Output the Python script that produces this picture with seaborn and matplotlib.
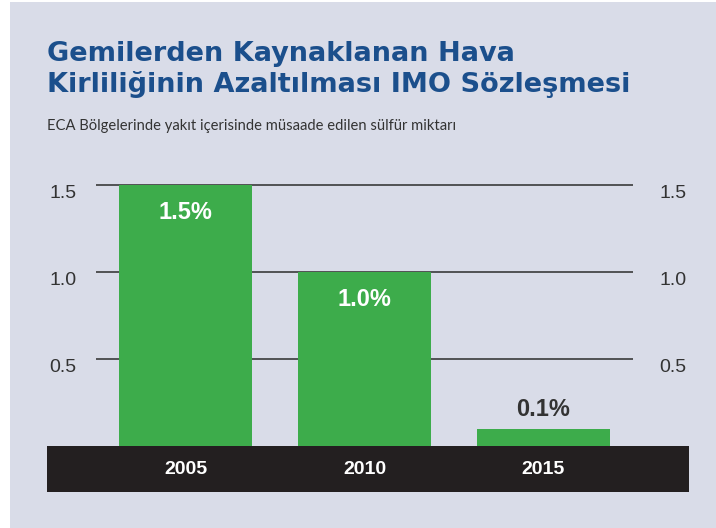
import matplotlib
matplotlib.use('Agg')
import matplotlib.pyplot as plt
from matplotlib.patches import Rectangle
import matplotlib.transforms as mtransforms
import pandas as pd
import seaborn as sns

sns.set_style("white")

# data
years = ['2005', '2010', '2015']
sulfur_limit = [1.5, 1.0, 0.1]
value_labels = ['1.5%', '1.0%', '0.1%']
y_ticks = [0.5, 1.0, 1.5]
y_tick_labels = ['0.5', '1.0', '1.5']

title = 'Gemilerden Kaynaklanan Hava\nKirliliğinin Azaltılması IMO Sözleşmesi'
subtitle = 'ECA Bölgelerinde yakıt içerisinde müsaade edilen sülfür miktarı'

bg_color = '#d9dce8'
green = '#3dac4b'
band_color = '#231f20'
title_color = '#1b4f8c'
text_color = '#333333'

W, H = 716, 528
fig = plt.figure(figsize=(W / 100, H / 100), dpi=100)
fig.patch.set_facecolor('white')

# panel background (thin white margin on the left and top)
fig.patches.append(Rectangle((10 / W, 0), (W - 10) / W, (H - 2) / H,
                             transform=fig.transFigure, facecolor=bg_color,
                             edgecolor='none', zorder=0))

# dark band under the bars
fig.patches.append(Rectangle((47 / W, (H - 492) / H), (689 - 47) / W, 46 / H,
                             transform=fig.transFigure, facecolor=band_color,
                             edgecolor='none', zorder=1))

ax = fig.add_axes([96 / W, (H - 446) / H, 537 / W, 1.55 * 174 / H])
ax.set_facecolor('none')
ax.set_zorder(5)

df = pd.DataFrame({'year': years, 'limit': sulfur_limit})
sns.barplot(data=df, x='year', y='limit', color=green, width=0.743,
            saturation=1, linewidth=0, ax=ax, zorder=3)

ax.set_xlim(-0.5, 2.5)
ax.set_ylim(0, 1.55)
ax.set_xlabel('')
ax.set_ylabel('')
ax.set_xticks([])
for s in ax.spines.values():
    s.set_visible(False)

for yv in y_ticks:
    ax.axhline(yv, color='#3a3a3a', lw=1.2, zorder=1)

ax.set_yticks(y_ticks)
ax.set_yticklabels(y_tick_labels, family='Liberation Sans')
ax.tick_params(axis='y', length=0, pad=14, labelsize=14, labelcolor=text_color)

ax2 = ax.twinx()
ax2.set_zorder(6)
ax2.set_ylim(ax.get_ylim())
ax2.set_yticks(y_ticks)
ax2.set_yticklabels(y_tick_labels, family='Liberation Sans')
ax2.tick_params(axis='y', length=0, pad=19, labelsize=14, labelcolor=text_color)
for s in ax2.spines.values():
    s.set_visible(False)

# tick labels sit a little below their grid lines in the reference
shift = mtransforms.ScaledTranslation(0, -0.06, fig.dpi_scale_trans)
for lab in ax.get_yticklabels() + ax2.get_yticklabels():
    lab.set_transform(lab.get_transform() + shift)

# value labels
for i, (v, lab) in enumerate(zip(sulfur_limit, value_labels)):
    if v > 0.5:
        ax.text(i, v - 0.16, lab, ha='center', va='center', color='white',
                fontsize=17, fontweight='bold', family='Liberation Sans', zorder=5)
    else:
        ax.text(i, v + 0.11, lab, ha='center', va='center', color=text_color,
                fontsize=17, fontweight='bold', family='Liberation Sans', zorder=5)

# year labels inside the band
trans = mtransforms.blended_transform_factory(ax.transData, fig.transFigure)
for i, yr in enumerate(years):
    ax.text(i, (H - 470) / H, yr, transform=trans, ha='center', va='center',
            color='white', fontsize=14, fontweight='bold',
            family='Liberation Sans', zorder=5, clip_on=False)

fig.text(47 / W, (H - 41) / H, title, ha='left', va='top', color=title_color,
         fontsize=19.5, fontweight='bold', family='DejaVu Sans', linespacing=1.2)
fig.text(47 / W, (H - 126) / H, subtitle, ha='left', va='center', color=text_color,
         fontsize=10.6, family='Lato')

fig.savefig('out.png', dpi=100)
